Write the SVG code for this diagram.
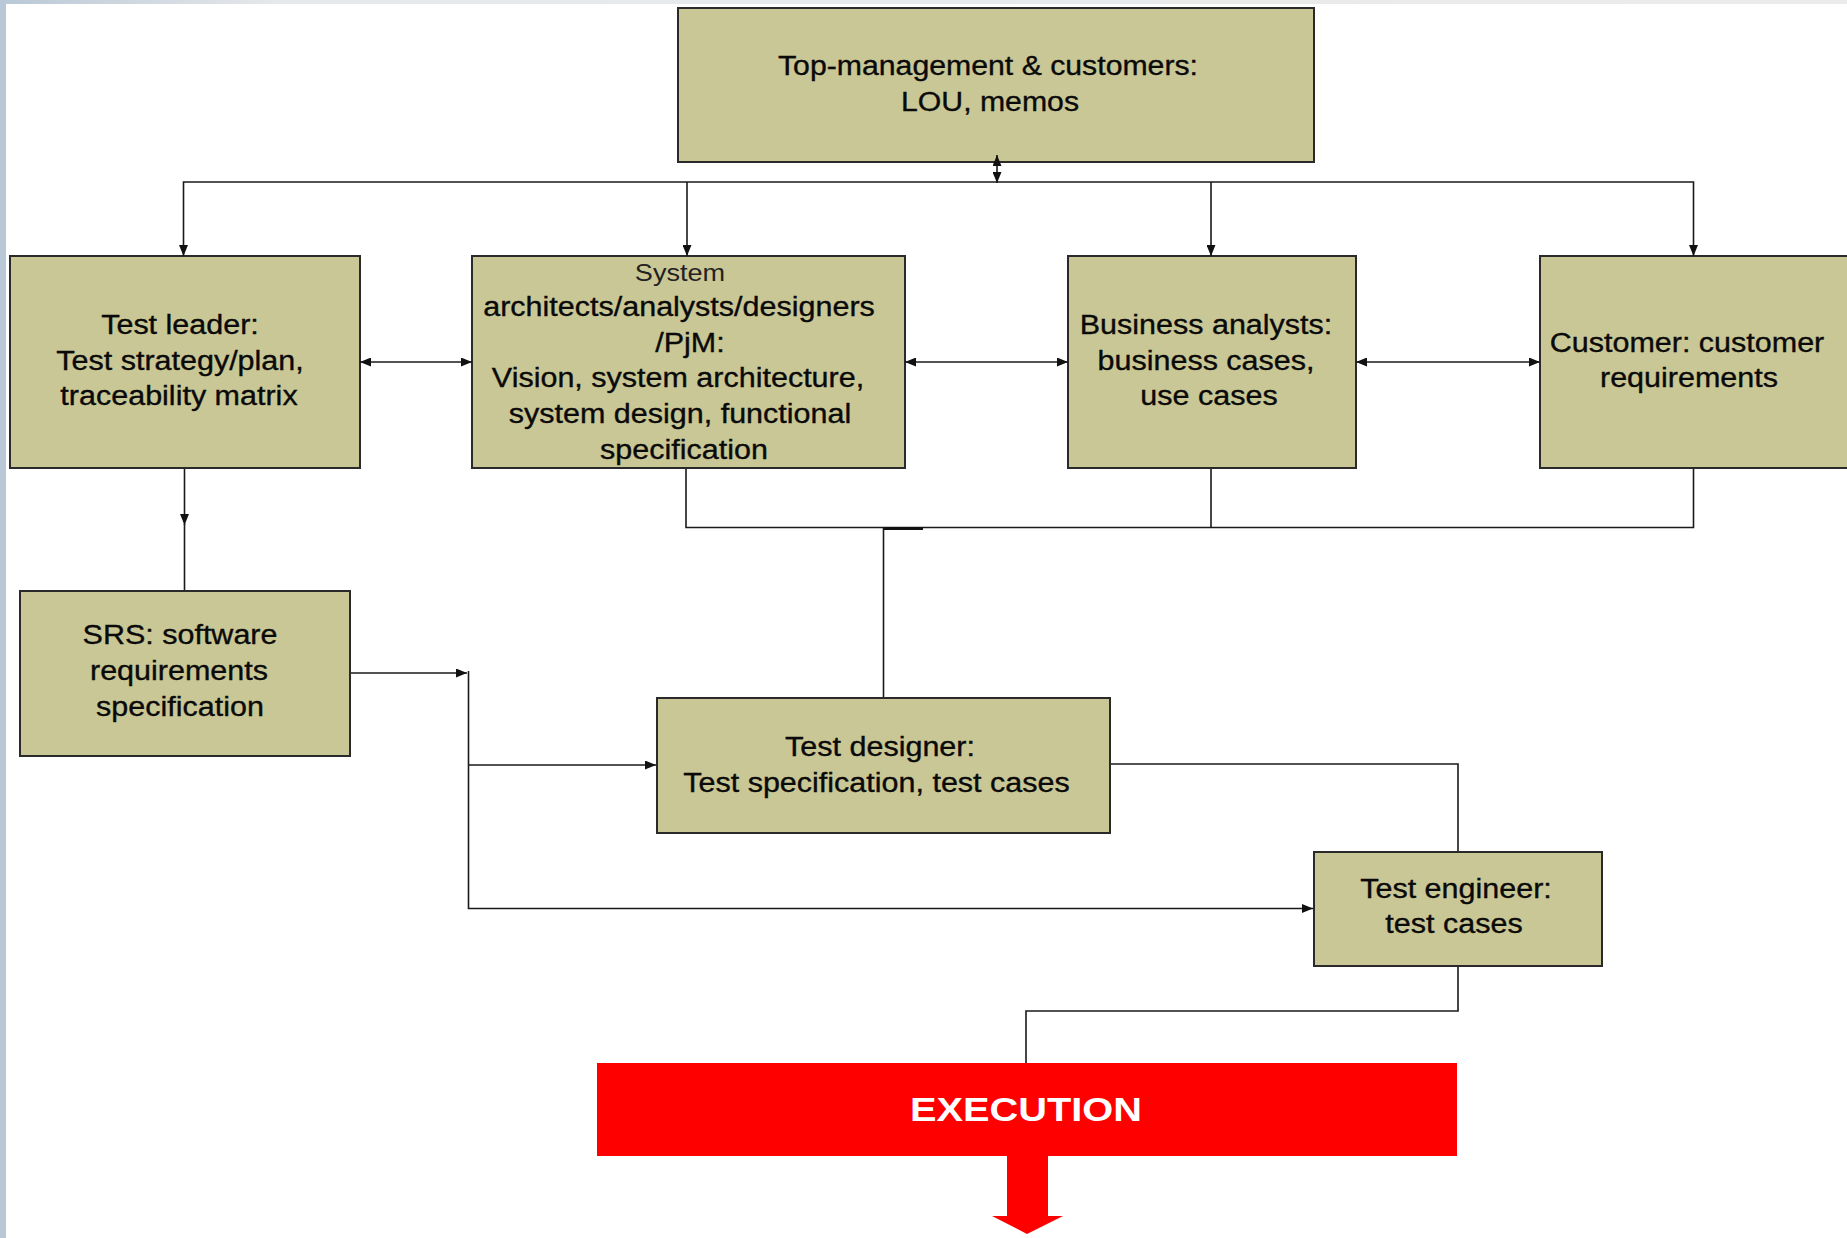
<svg xmlns="http://www.w3.org/2000/svg" width="1847" height="1238" viewBox="0 0 1847 1238">
<defs>
<linearGradient id="topband" x1="0" y1="0" x2="1" y2="0">
<stop offset="0" stop-color="#b9c8d6"/>
<stop offset="0.15" stop-color="#e6e8ea"/>
<stop offset="1" stop-color="#ebebeb"/>
</linearGradient>
<marker id="ah" markerUnits="userSpaceOnUse" markerWidth="12" markerHeight="9" refX="11" refY="4.5" orient="auto-start-reverse">
<path d="M0,0 L11,4.5 L0,9 z" fill="#111"/>
</marker>
<style>
.box{fill:#c9c795;stroke:#2a2a2a;stroke-width:2}
.t{font-family:"Liberation Sans",Arial,sans-serif;font-size:27px;fill:#0a0a0a;stroke:#0a0a0a;stroke-width:0.35;text-anchor:middle}
.ts{font-family:"Liberation Sans",Arial,sans-serif;font-size:24px;fill:#222;text-anchor:middle}
.ln{fill:none;stroke:#1a1a1a;stroke-width:1.6}
.exec{font-family:"Liberation Sans",Arial,sans-serif;font-size:34px;font-weight:bold;fill:#ffffff;text-anchor:middle}
</style>
</defs>
<rect x="0" y="0" width="1847" height="1238" fill="#ffffff"/>
<rect x="0" y="0" width="1847" height="4" fill="url(#topband)"/>
<rect x="0" y="0" width="6" height="1238" fill="#b9c8d6"/>

<g id="top-management">
<rect class="box" x="678" y="8" width="636" height="154"/>
<text class="t" transform="translate(988,75) scale(1.12,1)">Top-management &amp; customers:</text>
<text class="t" transform="translate(990,111) scale(1.12,1)">LOU, memos</text>
</g>

<g id="test-leader">
<rect class="box" x="10" y="256" width="350" height="212"/>
<text class="t" transform="translate(180,334) scale(1.13,1)">Test leader:</text>
<text class="t" transform="translate(180,370) scale(1.13,1)">Test strategy/plan,</text>
<text class="t" transform="translate(179,405) scale(1.13,1)">traceability matrix</text>
</g>

<g id="system-architects">
<rect class="box" x="472" y="256" width="433" height="212"/>
<text class="ts" transform="translate(680,281) scale(1.13,1)">System</text>
<text class="t" transform="translate(679,316) scale(1.13,1)">architects/analysts/designers</text>
<text class="t" transform="translate(690,351.5) scale(1.13,1)">/PjM:</text>
<text class="t" transform="translate(678,387) scale(1.13,1)">Vision, system architecture,</text>
<text class="t" transform="translate(680,422.5) scale(1.13,1)">system design, functional</text>
<text class="t" transform="translate(684,458.5) scale(1.13,1)">specification</text>
</g>

<g id="business-analysts">
<rect class="box" x="1068" y="256" width="288" height="212"/>
<text class="t" transform="translate(1206,334) scale(1.13,1)">Business analysts:</text>
<text class="t" transform="translate(1206,370) scale(1.13,1)">business cases,</text>
<text class="t" transform="translate(1209,405) scale(1.13,1)">use cases</text>
</g>

<g id="customer">
<rect class="box" x="1540" y="256" width="330" height="212"/>
<text class="t" transform="translate(1687,352) scale(1.13,1)">Customer: customer</text>
<text class="t" transform="translate(1689,387) scale(1.13,1)">requirements</text>
</g>

<g id="srs">
<rect class="box" x="20" y="591" width="330" height="165"/>
<text class="t" transform="translate(180,644) scale(1.13,1)">SRS: software</text>
<text class="t" transform="translate(179,680) scale(1.13,1)">requirements</text>
<text class="t" transform="translate(180,716) scale(1.13,1)">specification</text>
</g>

<g id="test-designer">
<rect class="box" x="657" y="698" width="453" height="135"/>
<text class="t" transform="translate(880,756) scale(1.13,1)">Test designer:</text>
<text class="t" transform="translate(876.5,792) scale(1.13,1)">Test specification, test cases</text>
</g>

<g id="test-engineer">
<rect class="box" x="1314" y="852" width="288" height="114"/>
<text class="t" transform="translate(1456,898) scale(1.13,1)">Test engineer:</text>
<text class="t" transform="translate(1454,933) scale(1.13,1)">test cases</text>
</g>

<g id="execution">
<rect x="597" y="1063" width="860" height="93" fill="#fe0000"/>
<polygon points="1007,1155 1048,1155 1048,1216 1063,1216 1027,1234 992,1216 1007,1216" fill="#fe0000"/>
<text class="exec" transform="translate(1026,1121) scale(1.17,1)">EXECUTION</text>
</g>

<g id="connectors">
<line class="ln" x1="997" y1="155" x2="997" y2="183" marker-start="url(#ah)" marker-end="url(#ah)"/>
<path class="ln" d="M183.5,256 V182 H1693.5 V256" marker-start="url(#ah)" marker-end="url(#ah)"/>
<line class="ln" x1="687" y1="182" x2="687" y2="256" marker-end="url(#ah)"/>
<line class="ln" x1="1211" y1="182" x2="1211" y2="256" marker-end="url(#ah)"/>
<line class="ln" x1="360" y1="362" x2="472" y2="362" marker-start="url(#ah)" marker-end="url(#ah)"/>
<line class="ln" x1="905" y1="362" x2="1068" y2="362" marker-start="url(#ah)" marker-end="url(#ah)"/>
<line class="ln" x1="1356" y1="362" x2="1540" y2="362" marker-start="url(#ah)" marker-end="url(#ah)"/>
<line class="ln" x1="184.5" y1="469" x2="184.5" y2="525" marker-end="url(#ah)"/>
<line class="ln" x1="184.5" y1="524" x2="184.5" y2="590"/>
<path class="ln" d="M686,469 V527.5 H1693.5 V469"/>
<line class="ln" x1="1211" y1="469" x2="1211" y2="527.5"/>
<line class="ln" x1="883.5" y1="527.5" x2="883.5" y2="697"/>
<line x1="884" y1="528.5" x2="923" y2="528.5" stroke="#111" stroke-width="3"/>
<line class="ln" x1="351" y1="673" x2="467" y2="673" marker-end="url(#ah)"/>
<path class="ln" d="M468.5,671 V908.5 H1313" marker-end="url(#ah)"/>
<line class="ln" x1="468.5" y1="765" x2="656" y2="765" marker-end="url(#ah)"/>
<path class="ln" d="M1111,764 H1458 V851"/>
<path class="ln" d="M1458,967 V1011 H1026 V1063"/>
</g>
</svg>
